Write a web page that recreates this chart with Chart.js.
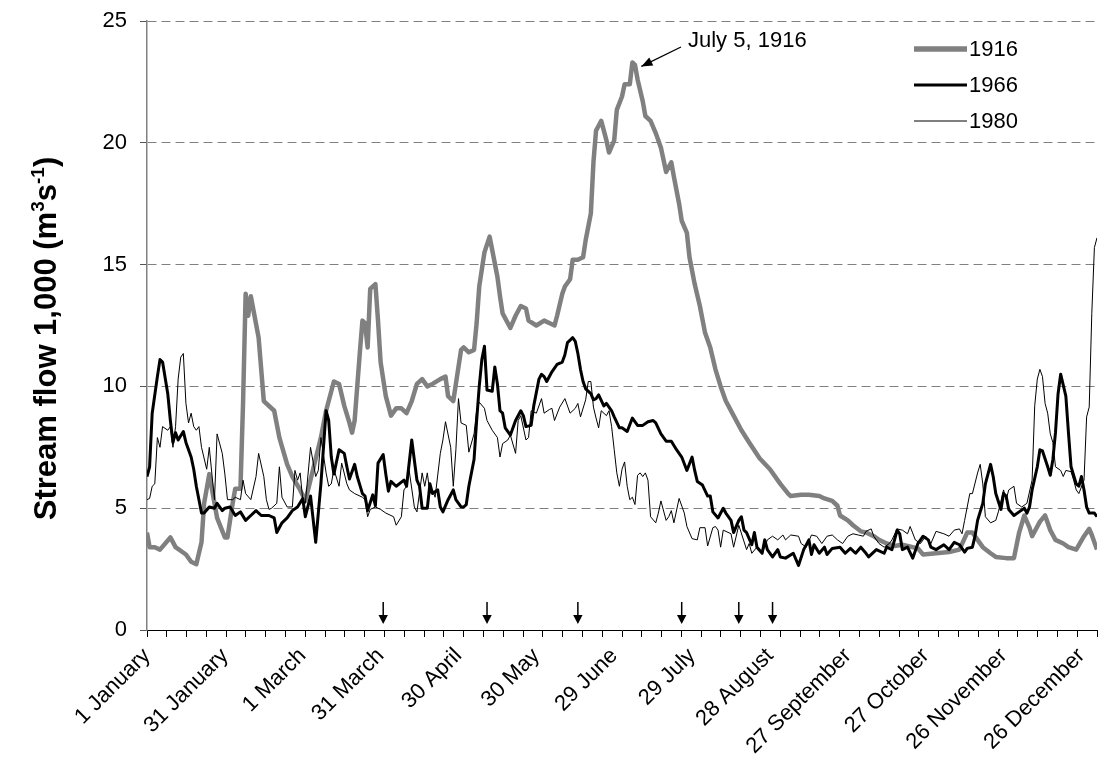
<!DOCTYPE html>
<html>
<head>
<meta charset="utf-8">
<script src="https://cdn.jsdelivr.net/npm/chart.js@4/dist/chart.umd.min.js"></script>
<style>
  html, body { margin: 0; padding: 0; background: #ffffff; }
  canvas { display: block; }
</style>
</head>
<body>
<canvas id="flow" width="1098" height="766"></canvas>
<script>
const FONT = '"Liberation Sans", Arial, Helvetica, sans-serif';

// Category labels along the day-of-year axis
const labelDays = [0, 30, 60, 90, 120, 150, 180, 210, 240, 270, 300, 330, 360];
const labelNames = ['1 January', '31 January', '1 March', '31 March', '30 April', '30 May',
  '29 June', '29 July', '28 August', '27 September', '27 October', '26 November', '26 December'];

// Days marked with arrows above the axis
const markerDays = [91, 131, 166, 206, 228, 241];

// Peak note
const peakNote = 'July 5, 1916';

// Daily stream flow (1,000 m3/s), day 0 = 1 January
const days1916 = [0,1,3,5,9,11,15,17,19,21,22,24,27,30,31,33,34,36,37,38,39,40,43,45,49,51,54,56,59,61,
  64,67,69,72,74,76,78,79,80,82,83,84,85,86,88,89,90,92,94,96,98,100,102,104,106,108,110,113,115,116,
  118,119,121,122,124,126,127,128,130,132,133,135,136,137,140,142,144,146,147,150,153,155,157,158,160,161,163,164,166,168,
  169,171,172,173,174,175,177,178,180,181,183,184,186,187,188,189,191,192,194,196,198,200,202,203,205,206,208,209,211,213,
  215,217,219,221,223,226,229,232,236,240,244,247,248,252,255,259,261,264,266,267,270,272,275,277,280,282,285,288,291,297,
  299,304,309,313,316,318,320,322,325,327,331,334,336,338,340,341,344,346,348,350,353,355,358,361,363,364,366];
const flow1916 = [4.0,3.4,3.4,3.3,3.8,3.4,3.1,2.8,2.7,3.6,5.2,6.4,4.6,3.8,3.8,5.2,5.8,5.8,9.3,13.8,
  12.9,13.7,12.0,9.4,9.0,7.9,6.8,6.3,5.75,5.3,6.6,7.9,9.0,10.2,10.1,9.2,8.5,8.1,8.6,11.4,
  12.7,12.6,11.6,14.0,14.2,12.7,11.0,9.6,8.8,9.1,9.1,8.9,9.4,10.1,10.3,10.0,10.1,10.3,10.4,9.6,
  9.4,10.1,11.5,11.6,11.4,11.5,12.6,14.1,15.5,16.15,15.6,14.5,13.7,13.0,12.4,12.9,13.3,13.2,12.7,12.5,
  12.7,12.6,12.5,12.9,13.8,14.1,14.4,15.2,15.2,15.3,16.0,17.1,19.2,20.5,20.7,20.9,20.1,19.6,20.1,21.35,
  21.9,22.4,22.4,23.3,23.2,22.6,21.7,21.1,20.9,20.4,19.8,18.8,19.2,18.6,17.5,16.8,16.3,15.3,14.2,13.3,
  12.2,11.6,10.7,10.0,9.4,8.8,8.2,7.7,7.05,6.6,6.0,5.6,5.5,5.55,5.55,5.5,5.4,5.3,5.1,4.7,
  4.5,4.3,4.05,4.0,3.85,3.7,3.55,3.45,3.5,3.35,3.1,3.15,3.2,3.3,4.0,4.0,3.7,3.4,3.15,3.0,
  2.95,2.95,4.0,4.7,4.2,3.85,4.45,4.7,4.1,3.7,3.55,3.4,3.3,3.85,4.15,3.9,3.3];

const days1966 = [0,1,2,4,5,6,8,9,10,11,12,14,15,17,18,19,21,22,24,26,27,29,30,32,34,36,38,40,42,44,
  47,49,50,52,54,56,58,60,61,63,65,67,69,70,71,72,74,76,77,78,80,81,83,84,85,87,88,89,91,92,
  93,94,96,99,100,102,104,105,106,108,109,110,112,113,114,116,118,119,121,122,123,124,126,127,128,129,130,131,133,134,
  135,136,137,138,140,142,144,145,146,148,149,151,152,153,154,156,158,160,161,162,164,165,166,167,168,169,171,172,173,174,
  176,177,179,180,182,183,185,187,189,191,193,195,196,198,200,202,204,206,208,210,211,212,214,216,217,218,220,222,223,225,
  226,228,229,230,231,233,234,235,237,238,239,241,243,244,246,249,251,253,255,256,257,259,261,262,264,267,269,271,273,275,
  277,278,281,284,285,287,289,290,291,293,295,297,299,301,302,304,307,309,311,313,315,316,318,319,320,322,323,325,326,327,
  329,330,331,332,334,336,338,339,340,341,343,344,345,347,348,349,350,351,352,354,355,356,358,359,360,361,362,363,365,366];
const flow1966 = [6.3,6.7,8.9,10.4,11.1,11.0,9.7,8.6,7.7,8.1,7.8,8.15,7.7,7.1,6.6,5.9,4.8,4.8,5.05,5.0,
  5.2,4.9,5.0,5.05,4.7,4.85,4.5,4.7,4.9,4.7,4.7,4.6,4.0,4.4,4.6,4.9,5.05,5.4,4.65,5.5,
  3.6,6.0,9.0,8.6,7.1,6.4,7.4,7.25,6.7,6.2,6.8,6.3,5.6,5.5,4.9,5.55,5.1,6.85,7.2,6.4,
  5.7,6.1,5.9,6.15,5.9,7.8,6.15,5.9,5.0,5.0,6.0,5.6,5.75,5.05,4.85,5.35,5.75,5.35,5.05,5.05,
  5.15,5.9,7.0,8.6,10.0,11.1,11.65,9.85,9.8,10.8,10.1,9.0,8.9,8.3,8.0,8.6,9.0,8.8,8.35,8.4,
  9.2,10.3,10.5,10.4,10.2,10.6,10.9,11.0,11.3,11.8,12.0,11.85,11.35,10.7,10.2,9.9,9.7,9.45,9.5,9.65,
  9.2,9.3,9.0,8.75,8.3,8.3,8.15,8.7,8.4,8.4,8.55,8.6,8.5,8.05,7.75,7.75,7.4,7.1,6.55,7.1,
  6.55,6.1,5.95,5.5,5.5,4.85,4.6,5.0,4.8,4.5,4.0,4.5,4.65,4.1,4.0,3.5,4.0,3.4,3.15,3.7,
  3.3,3.0,3.3,3.0,2.95,3.15,2.65,3.3,3.7,3.1,3.5,3.15,3.4,3.1,3.35,3.4,3.15,3.35,3.15,3.4,
  3.15,3.0,3.3,3.15,3.4,3.3,4.1,3.95,3.3,3.4,2.95,3.55,3.85,3.7,3.4,3.3,3.5,3.3,3.6,3.5,
  3.2,3.35,3.4,3.85,4.5,5.2,6.0,6.8,6.3,5.6,4.95,5.6,5.5,4.95,4.7,4.85,5.0,4.8,5.05,5.75,
  6.7,7.4,7.35,6.7,6.35,7.0,8.1,9.7,10.5,9.6,8.1,6.7,6.0,5.9,6.3,5.75,5.05,4.8,4.8,4.65];

const days1980 = [0,1,2,3,4,5,6,8,9,10,11,12,13,14,15,16,17,18,19,20,21,23,24,25,26,27,29,30,31,33,
  34,36,37,38,40,42,43,45,46,47,48,50,51,52,54,56,57,58,59,60,61,63,65,66,67,69,70,71,72,74,
  75,77,78,80,83,84,85,86,88,90,92,94,95,96,98,99,100,101,103,104,106,107,108,109,110,111,113,114,115,117,
  118,119,120,121,123,124,126,127,128,130,131,133,135,136,137,139,140,142,143,144,146,147,148,150,152,153,155,156,157,159,
  161,163,165,166,167,169,170,171,172,173,174,175,177,178,179,180,181,182,183,184,185,186,187,188,189,190,191,192,193,194,
  196,197,198,200,201,202,203,205,207,208,210,212,213,215,216,218,219,220,221,222,225,226,228,231,232,233,235,237,239,241,
  243,245,246,248,251,252,254,256,258,260,262,264,266,268,270,272,274,276,277,279,280,282,284,286,287,289,291,293,294,296,
  298,300,302,304,307,309,311,313,314,315,317,318,320,321,322,323,325,327,328,330,331,332,334,335,337,339,341,342,343,344,
  345,346,347,348,349,350,352,353,354,356,357,358,359,361,362,363,364,365,366];
const flow1980 = [5.35,5.4,5.9,6.0,7.9,7.5,8.35,8.2,8.35,7.5,8.35,10.3,11.2,11.35,9.3,8.5,8.9,8.35,8.2,8.35,
  7.5,6.6,7.5,6.4,5.35,8.05,7.25,6.4,5.35,5.35,5.45,5.35,6.15,5.6,5.35,6.3,7.25,6.3,5.35,4.95,
  5.0,5.2,6.7,5.45,5.05,5.05,6.55,6.15,6.45,5.35,5.2,7.5,6.3,6.55,7.9,6.45,5.9,6.0,6.6,5.9,
  6.85,6.0,5.75,5.6,5.45,5.35,4.65,4.95,5.05,4.95,4.8,4.7,4.65,4.3,4.65,5.75,5.9,6.55,5.05,4.85,
  6.45,5.9,6.45,5.6,5.75,5.45,7.25,7.8,8.55,7.5,5.9,7.4,9.5,8.5,8.4,7.3,8.05,9.0,9.35,9.1,
  8.6,8.2,7.9,7.1,7.65,7.8,8.0,7.25,8.6,8.8,7.8,7.9,9.0,8.9,9.5,8.9,9.05,9.1,8.6,9.15,
  9.5,8.9,9.1,9.3,8.75,9.45,10.2,10.2,9.15,8.7,8.3,9.0,8.8,9.0,8.35,7.4,6.45,5.9,6.6,6.9,
  5.9,5.35,5.45,5.15,6.35,6.45,6.3,6.45,6.15,4.65,4.4,4.8,5.3,4.5,4.65,4.9,4.4,5.4,4.8,4.25,
  3.75,3.7,4.2,4.2,3.45,4.2,4.25,4.1,3.4,4.1,3.95,3.4,4.3,3.3,3.55,3.15,3.4,3.15,3.7,3.85,
  3.7,3.9,3.7,3.9,3.85,3.55,3.4,3.9,3.85,3.55,3.85,3.9,3.7,3.55,3.85,3.95,3.9,3.85,4.05,4.15,
  3.85,3.55,3.4,3.55,3.7,4.15,4.1,3.95,4.25,3.7,3.55,3.85,3.55,4.05,3.95,3.85,4.1,4.15,3.95,4.5,
  5.6,5.6,6.45,6.8,6.0,4.65,4.4,4.5,4.85,5.75,5.35,5.75,5.9,5.2,5.05,5.2,6.15,9.2,10.3,10.7,
  10.4,9.3,8.9,8.05,7.7,6.7,6.55,6.3,6.55,6.5,6.15,5.75,5.6,6.15,8.75,9.15,13.0,15.7,16.1];

const toPoints = (days, values) => days.map((d, i) => ({ x: d, y: values[i] }));

// Legend drawn as a stacked list in the upper right of the plot
const stackedLegend = {
  id: 'stackedLegend',
  afterDraw(chart) {
    const { ctx } = chart;
    ctx.save();
    ctx.font = '22px ' + FONT;
    ctx.textBaseline = 'middle';
    ctx.textAlign = 'left';
    chart.data.datasets.forEach((ds, i) => {
      const y = 49 + i * 36;
      ctx.strokeStyle = ds.borderColor;
      ctx.lineWidth = ds.borderWidth + (i === 0 ? 1 : 0);
      ctx.lineCap = 'butt';
      ctx.beginPath();
      ctx.moveTo(914, y);
      ctx.lineTo(967, y);
      ctx.stroke();
      ctx.fillStyle = '#000';
      ctx.fillText(ds.label, 969, y + 1);
    });
    ctx.restore();
  }
};

// Rotated y-axis title with superscripted units
const unitTitle = {
  id: 'unitTitle',
  afterDraw(chart) {
    const { ctx, chartArea } = chart;
    const parts = [['Stream flow 1,000 (m', false], ['3', true], ['s', false], ['-1', true], [')', false]];
    const big = 'bold 31px ' + FONT;
    const small = 'bold 19px ' + FONT;
    ctx.save();
    let total = 0;
    parts.forEach(([t, sup]) => { ctx.font = sup ? small : big; total += ctx.measureText(t).width; });
    ctx.translate(45, (chartArea.top + chartArea.bottom) / 2 + 13);
    ctx.rotate(-Math.PI / 2);
    ctx.fillStyle = '#000';
    ctx.textBaseline = 'alphabetic';
    ctx.textAlign = 'left';
    let x = -total / 2;
    parts.forEach(([t, sup]) => {
      ctx.font = sup ? small : big;
      ctx.fillText(t, x, sup ? -1 : 11);
      x += ctx.measureText(t).width;
    });
    ctx.restore();
  }
};

function arrowHead(ctx, tipX, tipY, fromX, fromY, len, half) {
  const a = Math.atan2(tipY - fromY, tipX - fromX);
  ctx.beginPath();
  ctx.moveTo(tipX, tipY);
  ctx.lineTo(tipX - len * Math.cos(a) + half * Math.sin(a), tipY - len * Math.sin(a) - half * Math.cos(a));
  ctx.lineTo(tipX - len * Math.cos(a) - half * Math.sin(a), tipY - len * Math.sin(a) + half * Math.cos(a));
  ctx.closePath();
  ctx.fill();
}

// Peak callout and the day markers above the date axis
const callouts = {
  id: 'callouts',
  afterDraw(chart) {
    const { ctx, chartArea } = chart;
    const xs = chart.scales.x, ys = chart.scales.y;
    ctx.save();
    ctx.fillStyle = '#000';
    ctx.strokeStyle = '#000';

    // peak of the 1916 series
    let pi = 0;
    flow1916.forEach((v, i) => { if (v > flow1916[pi]) pi = i; });
    const tipX = xs.getPixelForValue(days1916[pi]) + 9;
    const tipY = ys.getPixelForValue(flow1916[pi]) + 4;
    const fromX = 681, fromY = 47;
    ctx.lineWidth = 1.3;
    ctx.beginPath();
    ctx.moveTo(fromX, fromY);
    ctx.lineTo(tipX, tipY);
    ctx.stroke();
    arrowHead(ctx, tipX, tipY, fromX, fromY, 11, 4.5);
    ctx.font = '22px ' + FONT;
    ctx.textBaseline = 'middle';
    ctx.textAlign = 'left';
    ctx.fillText(peakNote, 688, 41);

    // downward markers
    const base = chartArea.bottom;
    markerDays.forEach(d => {
      const x = xs.getPixelForValue(d);
      ctx.lineWidth = 1.5;
      ctx.beginPath();
      ctx.moveTo(x, base - 28);
      ctx.lineTo(x, base - 14);
      ctx.stroke();
      ctx.beginPath();
      ctx.moveTo(x - 4.7, base - 15);
      ctx.lineTo(x + 4.7, base - 15);
      ctx.lineTo(x, base - 6);
      ctx.closePath();
      ctx.fill();
    });
    ctx.restore();
  }
};

const noSidePadding = s => { s.paddingLeft = 0; s.paddingRight = 0; };

new Chart(document.getElementById('flow'), {
  type: 'line',
  data: {
    datasets: [
      { label: '1916', data: toPoints(days1916, flow1916), borderColor: '#808080', borderWidth: 4.5, order: 3 },
      { label: '1966', data: toPoints(days1966, flow1966), borderColor: '#000000', borderWidth: 3, order: 2 },
      { label: '1980', data: toPoints(days1980, flow1980), borderColor: '#000000', borderWidth: 1, order: 1 }
    ]
  },
  options: {
    responsive: false,
    animation: false,
    devicePixelRatio: 1,
    layout: { padding: { top: 21, right: 1, left: 0, bottom: 0 } },
    elements: {
      point: { radius: 0, hoverRadius: 0 },
      line: { tension: 0, fill: false, borderJoinStyle: 'round', borderCapStyle: 'butt' }
    },
    plugins: { legend: { display: false }, tooltip: { enabled: false }, title: { display: false } },
    scales: {
      x: {
        type: 'linear', position: 'bottom', min: 0, max: 366, weight: 1,
        grid: { display: false, drawTicks: true, tickLength: 7 },
        border: { display: false },
        afterBuildTicks: s => { s.ticks = labelDays.map(v => ({ value: v })); },
        afterFit: s => { s.height = 136; noSidePadding(s); },
        ticks: {
          autoSkip: false, maxRotation: 45, minRotation: 45, padding: 6,
          color: '#000', font: { family: FONT, size: 22 },
          callback: (v, i) => labelNames[i]
        }
      },
      xMinor: {
        type: 'linear', position: 'bottom', min: 0, max: 366, weight: 0,
        grid: { display: true, drawOnChartArea: false, drawTicks: true, tickLength: 7, tickColor: '#000', tickWidth: 1 },
        border: { display: true, color: '#000', width: 1 },
        ticks: { display: false },
        afterBuildTicks: s => { s.ticks = Array.from({ length: 49 }, (_, i) => ({ value: i * 366 / 48 })); },
        afterFit: s => { s.height = 0; noSidePadding(s); }
      },
      y: {
        min: 0, max: 25,
        ticks: { stepSize: 5, padding: 13, color: '#000', font: { family: FONT, size: 22 } },
        grid: {
          color: c => (c.tick && c.tick.value === 0) ? 'rgba(0,0,0,0)' : '#808080',
          lineWidth: 1, tickLength: 7, tickColor: '#555555', tickWidth: 1
        },
        border: { display: true, color: '#808080', width: 1.5, dash: [9, 5] },
        afterFit: s => { s.width = 147; s.paddingTop = 0; s.paddingBottom = 0; }
      }
    }
  },
  plugins: [stackedLegend, unitTitle, callouts]
});
</script>
</body>
</html>
